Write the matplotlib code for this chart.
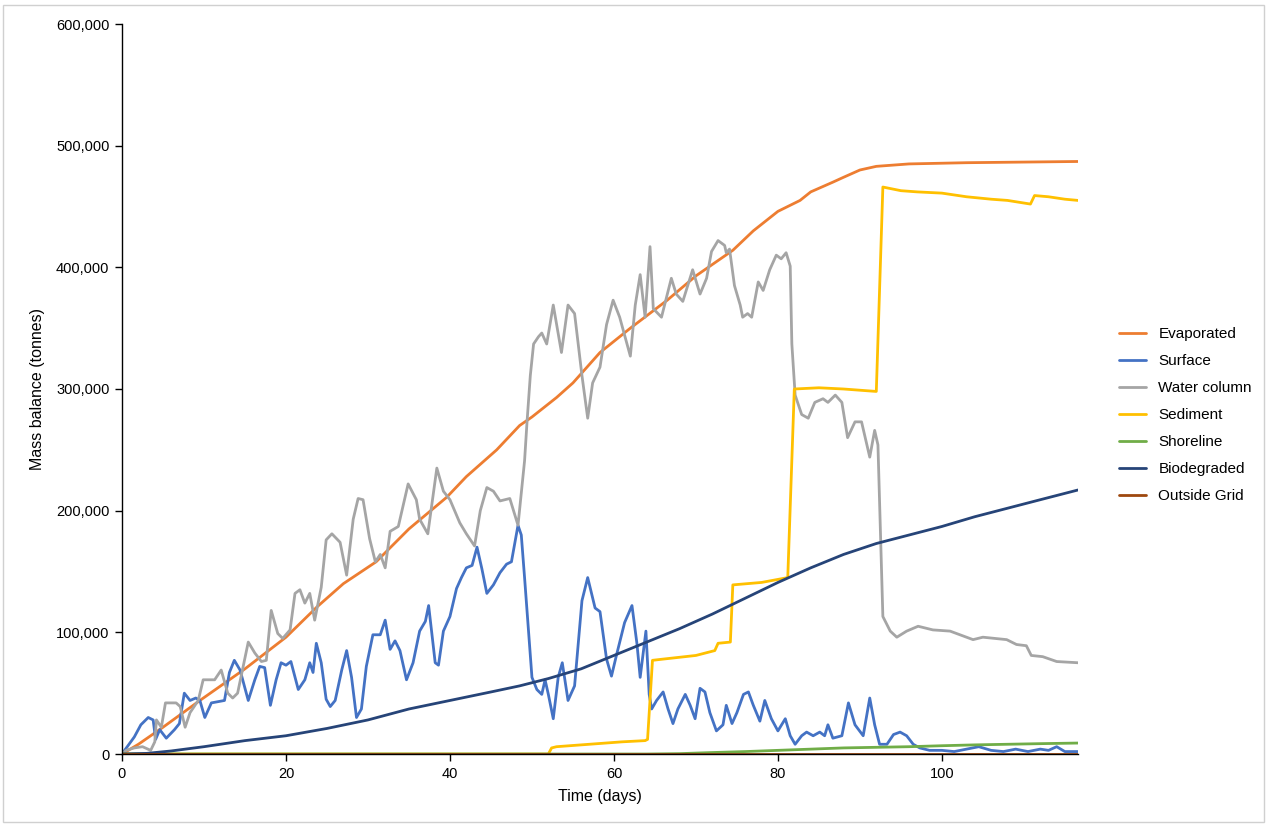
import matplotlib
matplotlib.use("Agg")
import matplotlib.pyplot as plt
from matplotlib.patches import Rectangle
from matplotlib.ticker import FuncFormatter, MultipleLocator

plt.rcParams['font.family'] = ['Liberation Sans', 'DejaVu Sans']

# ---- series (days, tonnes in thousands) ----
evap_days = [0, 2, 5, 9.5, 15, 20, 23.8, 27, 31, 35, 39.6, 42, 45.7, 48.5, 50, 53, 55,
             58.3, 62, 66.5, 70, 74.5, 77, 80, 82.7, 84, 86.7, 88, 90, 92, 96, 103, 116.6]
evap_vals = [0, 8, 22, 44, 70, 96, 121, 140, 158, 185, 211, 228, 250, 270, 277, 293, 305,
             330, 350, 373, 393, 414, 430, 446, 455, 462, 470, 474, 480, 483, 485, 486, 487]

surf_days = [0, 0.1, 1.5, 2.3, 3.2, 3.8, 4.1, 4.6, 5.4, 6.4, 7.0, 7.6, 8.3, 9.0, 9.5, 10.1,
             10.9, 11.7, 12.5, 13.1, 13.7, 14.4, 15.4, 16.2, 16.8, 17.4, 18.1, 18.8, 19.4,
             20.0, 20.6, 21.5, 22.3, 22.9, 23.3, 23.7, 24.3, 24.9, 25.4, 26.0, 26.8, 27.4,
             28.0, 28.6, 29.2, 29.8, 30.6, 31.5, 32.1, 32.7, 33.3, 33.9, 34.7, 35.5, 36.3,
             37.0, 37.4, 38.2, 38.6, 39.2, 40.0, 40.8, 41.4, 42.0, 42.7, 43.3, 43.9, 44.5,
             45.3, 46.1, 46.9, 47.5, 48.3, 48.7, 49.1, 50.0, 50.6, 51.2, 51.6, 52.0, 52.6,
             53.2, 53.7, 54.4, 55.2, 56.1, 56.8, 57.7, 58.3, 59.1, 59.7, 60.3, 61.3, 62.2,
             62.8, 63.2, 63.9, 64.3, 64.6, 65.2, 66.0, 66.6, 67.2, 67.8, 68.7, 69.3, 69.9,
             70.5, 71.1, 71.7, 72.5, 73.3, 73.7, 74.4, 75.0, 75.8, 76.4, 77.0, 77.8, 78.4,
             79.2, 80.0, 80.9, 81.5, 82.1, 82.9, 83.5, 84.3, 85.1, 85.7, 86.1, 86.7, 87.8,
             88.6, 89.4, 90.4, 91.2, 91.8, 92.4, 93.3, 94.1, 94.9, 95.7, 96.5, 97.3, 98.5,
             100, 101.5, 103, 104.5, 106, 107.5, 109, 110.5, 112, 113, 114, 115, 116.6]
surf_vals = [0, 1, 14, 24, 30, 28, 12, 20, 13, 20, 25, 50, 44, 46, 44, 30,
             42, 43, 44, 67, 77, 69, 44, 61, 72, 71, 40, 61, 75,
             73, 76, 53, 61, 75, 67, 91, 75, 45, 39, 44, 69, 85,
             63, 30, 37, 72, 98, 98, 110, 86, 93, 85, 61, 75, 101,
             109, 122, 75, 73, 101, 113, 136, 145, 153, 155, 170, 152, 132,
             139, 149, 156, 158, 188, 180, 145, 63, 53, 49, 61, 49, 29,
             63, 75, 44, 56, 126, 145, 120, 117, 78, 64, 81, 108, 122,
             91, 63, 101, 49, 37, 44, 51, 37, 25, 37, 49, 40, 29,
             54, 51, 34, 19, 24, 40, 25, 34, 49, 51, 40, 27, 44,
             29, 19, 29, 15, 8, 15, 18, 15, 18, 15, 24, 13, 15,
             42, 24, 15, 46, 24, 8, 8, 16, 18, 15, 8, 5, 3,
             3, 2, 4, 6, 3, 2, 4, 2, 4, 3, 6, 2, 2]

wcol_days = [0, 0.5, 1.5, 2.5, 3.5, 4.0, 4.2, 4.8, 5.3, 6.6, 7.1, 7.7, 8.3, 9.3, 9.9, 11.3,
             12.1, 12.9, 13.5, 14.1, 15.4, 16.2, 17.0, 17.6, 18.2, 19.0, 19.6, 20.5, 21.1,
             21.7, 22.3, 22.9, 23.5, 24.3, 24.9, 25.6, 26.6, 27.4, 28.2, 28.8, 29.4, 30.2,
             30.9, 31.5, 32.1, 32.7, 33.7, 34.9, 35.9, 36.3, 37.3, 38.4, 39.2, 40.0, 41.2,
             42.0, 43.0, 43.7, 44.5, 45.3, 46.1, 47.3, 48.3, 49.1, 49.4, 49.8, 50.2, 50.8,
             51.2, 51.8, 52.6, 53.6, 54.4, 55.2, 56.1, 56.8, 57.4, 58.3, 59.1, 59.9, 60.7,
             62.0, 62.6, 63.2, 63.8, 64.4, 64.8, 65.8, 66.4, 67.0, 67.6, 68.4, 69.0, 69.6,
             70.5, 71.3, 71.9, 72.7, 73.5, 73.7, 74.1, 74.7, 75.4, 75.7, 76.3, 76.8, 77.6,
             78.2, 79.0, 79.8, 80.4, 81.0, 81.5, 81.7, 82.1, 82.9, 83.7, 84.5, 85.5, 86.1,
             87.0, 87.8, 88.5, 89.4, 90.2, 91.2, 91.8, 92.2, 92.8, 93.7, 94.5, 95.7, 97.1,
             98.9, 101.0, 103.8, 105.0, 107.9, 109.1, 110.3, 110.9, 112.3, 114.0, 116.6]
wcol_vals = [0, 3, 5, 6, 3, 10, 28, 22, 42, 42, 39, 22, 34, 44, 61, 61,
             69, 50, 46, 50, 92, 83, 76, 77, 118, 99, 95, 102, 132,
             135, 124, 132, 110, 137, 176, 181, 174, 147, 193, 210, 209, 177,
             158, 164, 153, 183, 187, 222, 209, 193, 181, 235, 216, 209, 190,
             181, 171, 200, 219, 216, 208, 210, 188, 241, 273, 311, 337, 343,
             346, 337, 369, 330, 369, 362, 311, 276, 305, 318, 353, 373, 359,
             327, 369, 394, 359, 417, 366, 359, 375, 391, 378, 372, 385, 398,
             378, 391, 413, 422, 418, 412, 415, 385, 369, 359, 362, 359, 388,
             381, 398, 410, 407, 412, 401, 337, 295, 279, 276, 289, 292, 289,
             295, 289, 260, 273, 273, 244, 266, 254, 113, 101, 96, 101, 105,
             102, 101, 94, 96, 94, 90, 89, 81, 80, 76, 75]

sed_days = [0, 52.0, 52.4, 53, 57, 61, 63.8, 64.1, 64.7, 66, 70, 72.3, 72.7, 74.2, 74.5,
            78, 81.2, 82.0, 85, 88, 92.0, 92.8, 95, 97, 100, 103, 106, 108, 110.8, 111.3,
            113, 115, 116.6]
sed_vals = [0, 0, 5, 6, 8, 10, 11, 12, 77, 78, 81, 85, 91, 92, 139,
            141, 145, 300, 301, 300, 298, 466, 463, 462, 461, 458, 456, 455, 452, 459,
            458, 456, 455]

shore_days = [0, 64, 68, 72, 76, 80, 84, 88, 92, 96, 100, 104, 108, 112, 116.6]
shore_vals = [0, 0, 0.3, 1.2, 2, 3, 4, 5, 5.5, 6, 6.8, 7.5, 8, 8.5, 9]

bio_days = [0, 3, 6, 10, 15, 20, 25, 30, 35, 40, 45, 48.5, 52, 56, 60, 64, 68, 72, 76,
            80, 84, 88, 92, 96, 100, 104, 108, 112, 116.6]
bio_vals = [0, 0.5, 2.5, 6, 11, 15, 21, 28, 37, 44, 51, 56, 62, 70, 81, 92, 103, 115, 128,
            141, 153, 164, 173, 180, 187, 195, 202, 209, 217]

grid_days = [0, 116.6]
grid_vals = [0, 0]

series = [
    ("Evaporated", evap_days, evap_vals, "#ED7D31"),
    ("Surface", surf_days, surf_vals, "#4472C4"),
    ("Water column", wcol_days, wcol_vals, "#A5A5A5"),
    ("Sediment", sed_days, sed_vals, "#FFC000"),
    ("Shoreline", shore_days, shore_vals, "#70AD47"),
    ("Biodegraded", bio_days, bio_vals, "#264478"),
    ("Outside Grid", grid_days, grid_vals, "#9E480E"),
]

fig = plt.figure(figsize=(12.67, 8.25), dpi=100)
ax = fig.add_axes([122 / 1267, 71 / 825, (1078 - 122) / 1267, (801 - 71) / 825])

for name, d, v, c in series:
    ax.plot(d, [x * 1000 for x in v], color=c, lw=2.0, label=name,
            solid_joinstyle='round', solid_capstyle='round')

ax.set_xlim(0, 116.6)
ax.set_ylim(0, 600000)
ax.xaxis.set_major_locator(MultipleLocator(20))
ax.yaxis.set_major_locator(MultipleLocator(100000))
ax.yaxis.set_major_formatter(FuncFormatter(lambda v, p: f"{int(v):,}"))

for s in ("top", "right"):
    ax.spines[s].set_visible(False)
for s in ("left", "bottom"):
    ax.spines[s].set_color("black")
    ax.spines[s].set_linewidth(1.0)
ax.tick_params(axis="both", direction="out", length=5, width=1, labelsize=10.5,
               colors="black", pad=4)

ax.set_xlabel("Time (days)", fontsize=11.5, labelpad=6)
ax.set_ylabel("Mass balance (tonnes)", fontsize=11.5, labelpad=8)

fig.legend(loc="center left", bbox_to_anchor=(1105 / 1267, (825 - 415) / 825),
           frameon=False, fontsize=11, handlelength=1.8, handletextpad=0.8,
           labelspacing=0.85)

fig.patches.append(Rectangle((0.002, 0.004), 0.996, 0.99, transform=fig.transFigure,
                             fill=False, edgecolor="#d0d0d0", lw=1.0))

fig.savefig("out.png", dpi=100, facecolor="white")
